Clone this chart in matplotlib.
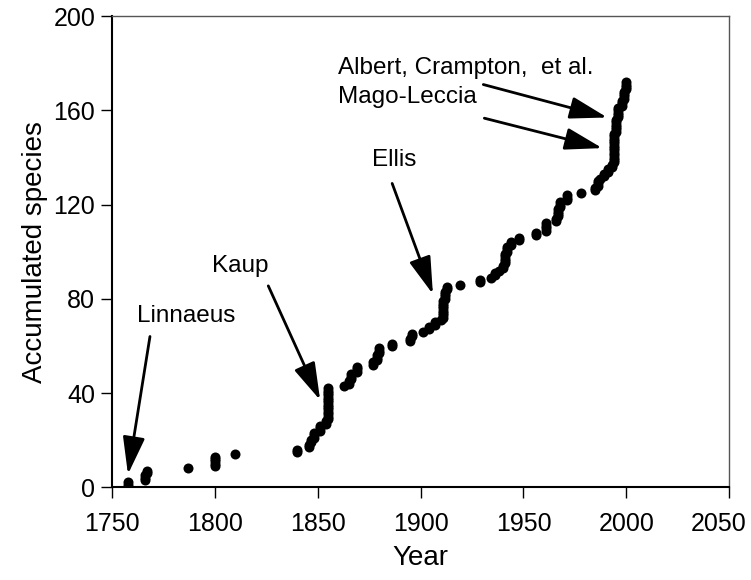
import numpy as np
import matplotlib.pyplot as plt
import matplotlib.transforms as mtransforms

# year of description and number of species added that year
years = [1758, 1766, 1767, 1787, 1800, 1810, 1840, 1846, 1847, 1848,
         1851, 1854, 1855, 1863, 1865, 1866, 1869, 1877, 1879, 1880,
         1886, 1895, 1896, 1901, 1904, 1907, 1910, 1911, 1912, 1913,
         1919, 1929, 1934, 1936, 1938, 1940, 1941, 1942, 1944, 1948,
         1956, 1961, 1966, 1967, 1968, 1971, 1978, 1985, 1986, 1987,
         1989, 1991, 1993, 1994, 1995, 1996, 1998, 1999, 2000]
new_species = [2, 3, 2, 1, 5, 1, 2, 2, 2, 3,
               3, 2, 14, 1, 2, 3, 3, 2, 3, 3,
               2, 2, 2, 1, 2, 2, 1, 8, 4, 2,
               1, 2, 1, 2, 1, 2, 5, 3, 2, 2,
               2, 4, 2, 4, 3, 3, 1, 2, 3, 1,
               2, 2, 2, 13, 6, 5, 3, 4, 4]

# annotations: text, text position, arrow start, arrow tip
notes = [
    ("Linnaeus", (1762, 72.5), (1768.5, 64), (1757.8, 5.5)),
    ("Kaup", (1798.5, 94), (1826, 85.5), (1851.2, 37)),
    ("Ellis", (1876.5, 139), (1886.2, 129), (1906, 82)),
    ("Albert, Crampton,  et al.", (1860, 178), (1930.5, 171), (1990.7, 157)),
    ("Mago-Leccia", (1860, 165.5), (1931, 156.7), (1988.3, 144)),
]

plt.rcParams['font.family'] = ['Liberation Sans', 'DejaVu Sans']

sp_year = np.repeat(years, new_species)
accum = np.arange(1, len(sp_year) + 1)

fig = plt.figure(figsize=(7.51, 5.8), dpi=100)
ax = fig.add_axes([0.149, 0.160, 0.822, 0.812])

ax.scatter(sp_year, accum, s=52, color='black', zorder=3, linewidths=0)

for text, tpos, start, tip in notes:
    ax.text(tpos[0], tpos[1], text, fontsize=17.5, ha='left', va='center')
    ax.annotate('', xy=tip, xytext=start,
                arrowprops=dict(arrowstyle='-|>,head_length=1.15,head_width=0.34',
                                mutation_scale=20, lw=2, color='black',
                                shrinkA=0, shrinkB=0))

ax.set_xlim(1750, 2050)
ax.set_ylim(0, 200)
ax.set_xticks(np.arange(1750, 2051, 50))
ax.set_yticks(np.arange(0, 201, 40))
ax.tick_params(direction='out', length=8, width=1, labelsize=18, pad=4)
ax.tick_params(axis='x', pad=10)

# last year label sits a little left so it stays in the picture
last = ax.get_xticklabels()[-1]
last.set_transform(last.get_transform() +
                   mtransforms.ScaledTranslation(-11 / 100, 0, fig.dpi_scale_trans))

for side in ['top', 'right']:
    ax.spines[side].set_color('#555555')
    ax.spines[side].set_linewidth(1)
for side in ['left', 'bottom']:
    ax.spines[side].set_linewidth(1.5)

ax.set_xlabel('Year', fontsize=20, labelpad=6)
ax.set_ylabel('Accumulated species', fontsize=20, labelpad=4)

fig.savefig('out.png', dpi=100)
